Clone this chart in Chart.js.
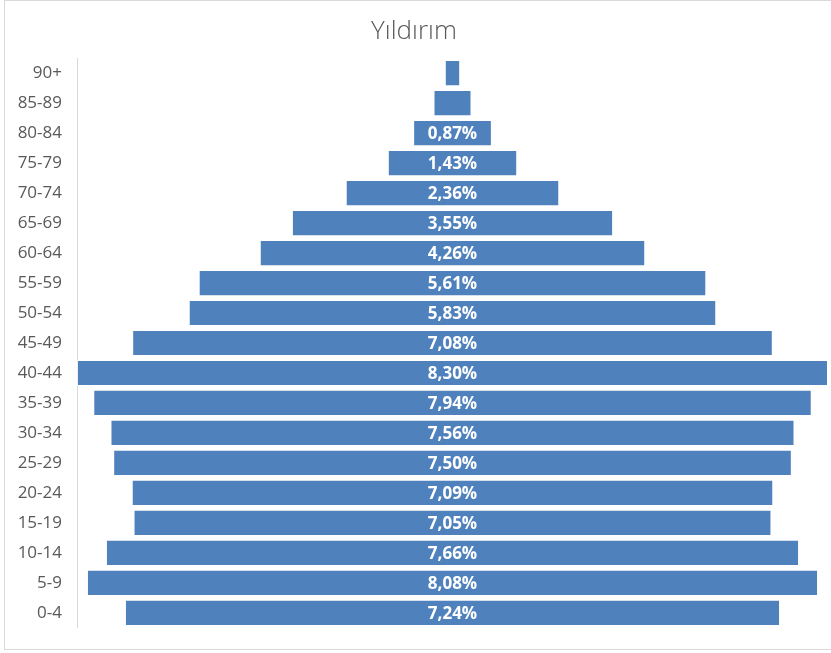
<!DOCTYPE html>
<html>
<head>
<meta charset="utf-8">
<script src="https://cdn.jsdelivr.net/npm/chart.js@4/dist/chart.umd.min.js"></script>
<style>
  body { margin: 0; background: #ffffff; }
  #wrap { position: relative; width: 831px; height: 653px; overflow: hidden; }
  #frame { position: absolute; left: 4px; top: 0; width: 840px; height: 650px; border: 1px solid #d9d9d9; box-sizing: border-box; }
  canvas { position: absolute; left: 0; top: 0; }
</style>
</head>
<body>
<div id="wrap">
  <div id="frame"></div>
  <canvas id="pyramid" width="831" height="653"></canvas>
</div>
<script>
// age groups, top to bottom
const ageGroups = ["90+", "85-89", "80-84", "75-79", "70-74", "65-69", "60-64", "55-59", "50-54",
  "45-49", "40-44", "35-39", "30-34", "25-29", "20-24", "15-19", "10-14", "5-9", "0-4"];
// share of population (%)
const shares = [0.17, 0.42, 0.87, 1.43, 2.36, 3.55, 4.26, 5.61, 5.83,
  7.08, 8.30, 7.94, 7.56, 7.50, 7.09, 7.05, 7.66, 8.08, 7.24];
// which bars carry a value label (the two oldest groups don't)
const showLabel = [false, false, true, true, true, true, true, true, true,
  true, true, true, true, true, true, true, true, true, true];

const axisHalf = 4.15;

// bars centred on zero
const barRanges = shares.map((v) => [-v / 2, v / 2]);

const valueLabels = {
  id: "valueLabels",
  afterDatasetsDraw(chart) {
    const ctx = chart.ctx;
    const meta = chart.getDatasetMeta(0);
    ctx.save();
    ctx.font = "bold 17px 'Open Sans', sans-serif";
    ctx.fillStyle = "#ffffff";
    ctx.textAlign = "center";
    ctx.textBaseline = "middle";
    meta.data.forEach((bar, i) => {
      if (!showLabel[i]) return;
      const p = bar.getProps(["x", "y", "base"], true);
      const txt = shares[i].toFixed(2).replace(".", ",") + "%";
      ctx.fillText(txt, (p.x + p.base) / 2, p.y + 1);
    });
    ctx.restore();
  },
};

const ctx = document.getElementById("pyramid").getContext("2d");
new Chart(ctx, {
  type: "bar",
  data: {
    labels: ageGroups,
    datasets: [
      {
        data: barRanges,
        backgroundColor: "#4f81bd",
        borderColor: "rgba(255,255,255,0.55)",
        borderWidth: 1,
        borderSkipped: false,
        barPercentage: 0.873,
        categoryPercentage: 1,
      },
    ],
  },
  options: {
    indexAxis: "y",
    responsive: false,
    animation: false,
    layout: { padding: { left: 0, right: 3, top: 0, bottom: 17 } },
    plugins: {
      legend: { display: false },
      tooltip: { enabled: false },
      title: {
        display: true,
        text: "Yıldırım",
        color: "#595959",
        font: { family: "'Open Sans', sans-serif", size: 26, weight: "300" },
        padding: { top: 16, bottom: 11 },
      },
    },
    scales: {
      x: {
        display: false,
        min: -axisHalf,
        max: axisHalf,
      },
      y: {
        afterFit: (scale) => { scale.width = 77; },
        grid: { display: false, drawTicks: false },
        border: { display: true, color: "#d9d9d9", width: 1 },
        ticks: {
          color: "#595959",
          padding: 15,
          font: { family: "'Open Sans', sans-serif", size: 17 },
        },
      },
    },
  },
  plugins: [valueLabels],
});
</script>
</body>
</html>
